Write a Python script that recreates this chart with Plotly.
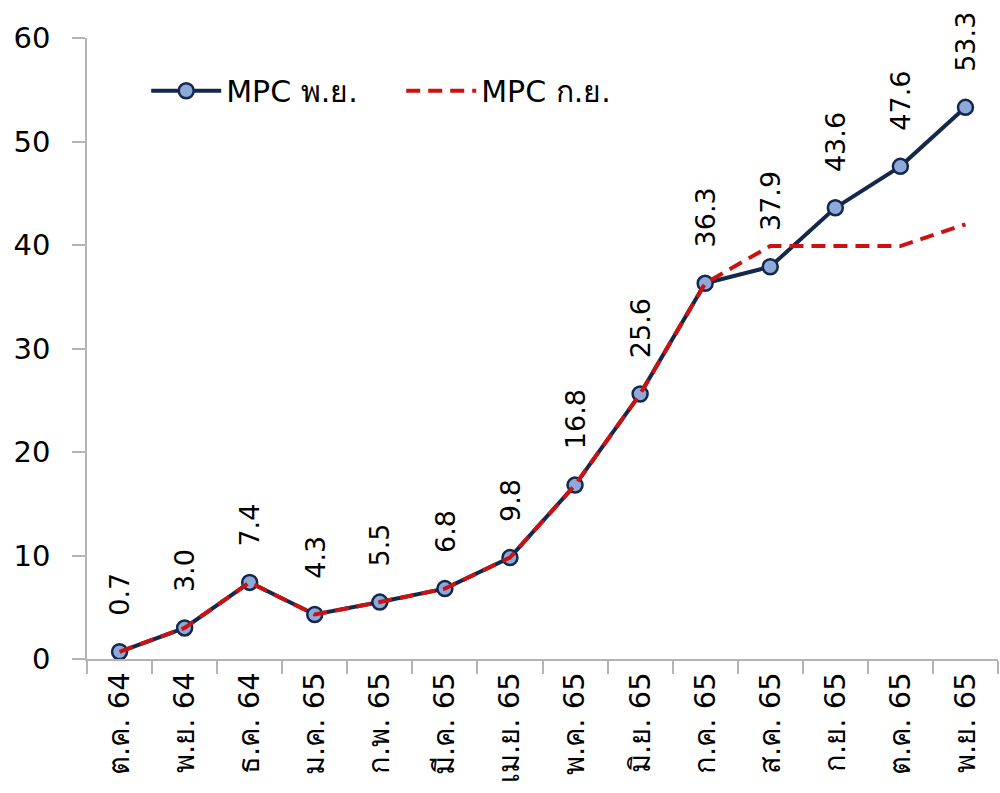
import plotly.graph_objects as go

months = ["ต.ค. 64", "พ.ย. 64", "ธ.ค. 64", "ม.ค. 65", "ก.พ. 65", "มี.ค. 65", "เม.ย. 65",
          "พ.ค. 65", "มิ.ย. 65", "ก.ค. 65", "ส.ค. 65", "ก.ย. 65", "ต.ค. 65", "พ.ย. 65"]
mpc_nov = [0.7, 3.0, 7.4, 4.3, 5.5, 6.8, 9.8, 16.8, 25.6, 36.3, 37.9, 43.6, 47.6, 53.3]
mpc_sep = [0.7, 3.0, 7.4, 4.3, 5.5, 6.8, 9.8, 16.8, 25.6, 36.3, 39.9, 39.9, 39.9, 42.0]
y_ticks = [0, 10, 20, 30, 40, 50, 60]

FONT = "DejaVu Sans, Tahoma, sans-serif"
AXIS_GREY = "#b4b4b4"

fig = go.Figure()
fig.add_trace(go.Scatter(
    x=months, y=mpc_nov, name="MPC พ.ย.", mode="lines+markers",
    line=dict(color="#14284b", width=4),
    marker=dict(size=15, color="#8eaadb", line=dict(color="#14284b", width=2.5)),
))
fig.add_trace(go.Scatter(
    x=months, y=mpc_sep, name="MPC ก.ย.", mode="lines",
    line=dict(color="#cc1111", width=4, dash="14px,8px"),
))

# rotated value labels above each point of the November series
for m, v in zip(months, mpc_nov):
    fig.add_annotation(
        x=m, y=v, text=f"{v:.1f}", showarrow=False, textangle=-90,
        yanchor="bottom", xanchor="center", yshift=34,
        font=dict(family=FONT, size=27, color="black"),
    )

fig.update_layout(
    width=1000, height=793,
    margin=dict(l=87, r=2, t=38, b=134),
    paper_bgcolor="white", plot_bgcolor="white",
    font=dict(family=FONT, size=28, color="black"),
    showlegend=True,
    legend=dict(
        orientation="h", x=0.065, y=0.915, xanchor="left", yanchor="middle",
        font=dict(family=FONT, size=30), bgcolor="rgba(0,0,0,0)",
        itemwidth=70, entrywidth=170, entrywidthmode="pixels",
    ),
)
fig.update_xaxes(
    type="category", range=[-0.5, len(months) - 0.5],
    showline=True, linecolor=AXIS_GREY, linewidth=1.5,
    ticks="outside", tickson="boundaries", ticklen=13, tickcolor=AXIS_GREY, tickwidth=1.5,
    tickangle=-90, showgrid=False, zeroline=False,
    tickfont=dict(family=FONT, size=29),
)
fig.update_yaxes(
    range=[0, 60], tickvals=y_ticks,
    showline=True, linecolor=AXIS_GREY, linewidth=1.5,
    ticks="outside", ticklen=13, tickcolor=AXIS_GREY, tickwidth=1.5,
    ticklabelstandoff=16,
    showgrid=False, zeroline=False,
    tickfont=dict(family=FONT, size=29),
)

fig.write_html("out.html")
